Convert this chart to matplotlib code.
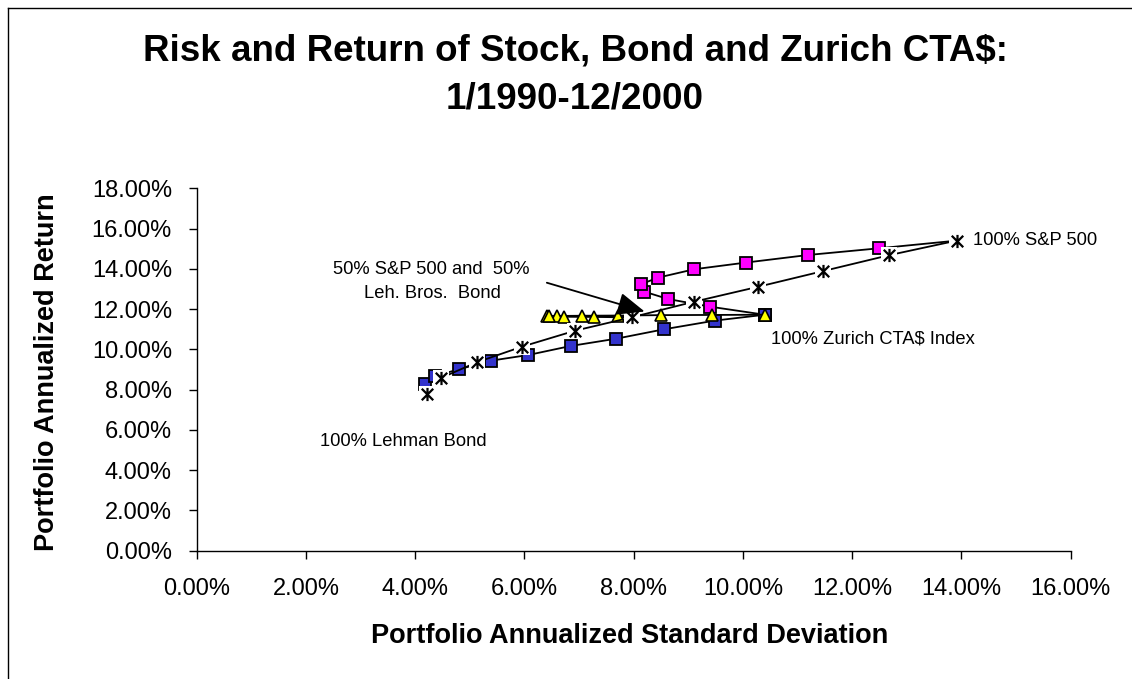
import matplotlib
matplotlib.use('Agg')
import matplotlib.pyplot as plt
from matplotlib.path import Path
from matplotlib.lines import Line2D

plt.rcParams['font.family'] = ['Liberation Sans', 'DejaVu Sans']

# ---- data (annualized std dev %, annualized return %) ----
stock_bond_sd = [4.21, 4.48, 5.13, 5.95, 6.93, 7.96, 9.11, 10.28, 11.47, 12.68, 13.91]
stock_bond_ret = [7.78, 8.59, 9.36, 10.13, 10.93, 11.59, 12.37, 13.11, 13.89, 14.68, 15.40]
bond_cta_sd = [4.21, 4.18, 4.37, 4.80, 5.39, 6.07, 6.85, 7.68, 8.56, 9.49, 10.40]
bond_cta_ret = [7.78, 8.28, 8.68, 9.01, 9.44, 9.72, 10.17, 10.53, 11.00, 11.43, 11.72]
stock_cta_sd = [10.40, 9.40, 8.63, 8.19, 8.13, 8.44, 9.11, 10.05, 11.20, 12.49, 13.91]
stock_cta_ret = [11.72, 12.12, 12.50, 12.87, 13.23, 13.56, 13.98, 14.31, 14.69, 15.02, 15.40]
mix_cta_sd = [10.40, 9.43, 8.50, 7.71, 7.05, 6.60, 6.42, 6.45, 6.73, 7.27, 7.96]
mix_cta_ret = [11.72, 11.71, 11.70, 11.68, 11.67, 11.66, 11.65, 11.64, 11.62, 11.61, 11.59]

x_ticks = [0, 2, 4, 6, 8, 10, 12, 14, 16]
y_ticks = [0, 2, 4, 6, 8, 10, 12, 14, 16, 18]

title_lines = ["Risk and Return of Stock, Bond and Zurich CTA$:", "1/1990-12/2000"]
x_label = "Portfolio Annualized Standard Deviation"
y_label = "Portfolio Annualized Return"

W, H = 1132, 679
fig = plt.figure(figsize=(W / 100, H / 100), dpi=100)
fig.patch.set_facecolor('white')

def fx(px):
    return px / W

def fy(py):
    return 1 - py / H

ax = fig.add_axes([fx(196.7), fy(550.7), fx(1070.7) - fx(196.7), fy(188.3) - fy(550.7)])
ax.set_xlim(0, 16)
ax.set_ylim(0, 18)
for s in ['top', 'right']:
    ax.spines[s].set_visible(False)
for s in ['left', 'bottom']:
    ax.spines[s].set_color('black')
    ax.spines[s].set_linewidth(1.0)
ax.set_xticks(x_ticks)
ax.set_yticks(y_ticks)
ax.set_xticklabels([f"{v:.2f}%" for v in x_ticks])
ax.set_yticklabels([f"{v:.2f}%" for v in y_ticks])
ax.tick_params(direction='out', length=5.8, width=1.0, labelsize=17, colors='black')
ax.tick_params(axis='x', pad=14)
ax.tick_params(axis='y', pad=12)

lw = 1.3
# magenta: stock + CTA
ax.plot(stock_cta_sd, stock_cta_ret, color='black', lw=lw, zorder=2,
        marker='s', markersize=8.5, markerfacecolor='#FF00FF', markeredgecolor='black', markeredgewidth=1.3)
# blue: bond + CTA
ax.plot(bond_cta_sd, bond_cta_ret, color='black', lw=lw, zorder=3,
        marker='s', markersize=8.5, markerfacecolor='#3333CC', markeredgecolor='black', markeredgewidth=1.3)
# yellow: 50/50 + CTA
ax.plot(mix_cta_sd, mix_cta_ret, color='black', lw=lw, zorder=4,
        marker='^', markersize=8.5, markerfacecolor='#FFFF00', markeredgecolor='black', markeredgewidth=1.2)
# stars: stock + bond
ax.plot(stock_bond_sd, stock_bond_ret, color='black', lw=lw, zorder=5)
ax.plot(stock_bond_sd, stock_bond_ret, ls='none', marker='s', markersize=11.5,
        markerfacecolor='white', markeredgewidth=0, zorder=6)
star = Path([(-1, -1), (1, 1), (-1, 1), (1, -1), (0, -1.15), (0, 1.15)],
            [Path.MOVETO, Path.LINETO, Path.MOVETO, Path.LINETO, Path.MOVETO, Path.LINETO])
ax.plot(stock_bond_sd, stock_bond_ret, ls='none', marker=star, markersize=9.5,
        markerfacecolor='none', markeredgecolor='black', markeredgewidth=1.6, zorder=7)

# annotations
fs = 13.2
ax.annotate("", xy=(8.2, 11.88), xytext=(6.41, 13.31), xycoords='data', textcoords='data',
            arrowprops=dict(arrowstyle='-|>,head_length=1.2,head_width=0.5', mutation_scale=14,
                            color='black', lw=1.3, shrinkA=0, shrinkB=0), zorder=8)
fig.text(fx(431), fy(270), "50% S&P 500 and  50%", fontsize=fs, ha='center', va='center')
fig.text(fx(432), fy(293), "Leh. Bros.  Bond", fontsize=fs, ha='center', va='center')
fig.text(fx(973), fy(240), "100% S&P 500", fontsize=fs, ha='left', va='center')
fig.text(fx(771), fy(339), "100% Zurich CTA$ Index", fontsize=fs, ha='left', va='center')
fig.text(fx(320), fy(442), "100% Lehman Bond", fontsize=fs, ha='left', va='center')

# titles & labels
fig.text(fx(575), fy(51), title_lines[0], fontsize=26.5, fontweight='bold', ha='center', va='center')
fig.text(fx(575), fy(99), title_lines[1], fontsize=26.5, fontweight='bold', ha='center', va='center')
fig.text(fx(630), fy(636), x_label, fontsize=19.5, fontweight='bold', ha='center', va='center')
fig.text(fx(47), fy(372), y_label, fontsize=19.5, fontweight='bold', ha='center', va='center', rotation=90)

# chart border (left and top visible)
fig.add_artist(Line2D([fx(7.5), fx(7.5)], [fy(7.5), 0], color='black', lw=1.0))
fig.add_artist(Line2D([fx(7.5), 1], [fy(7.5), fy(7.5)], color='black', lw=1.0))

fig.savefig('out.png', dpi=100, facecolor='white')
